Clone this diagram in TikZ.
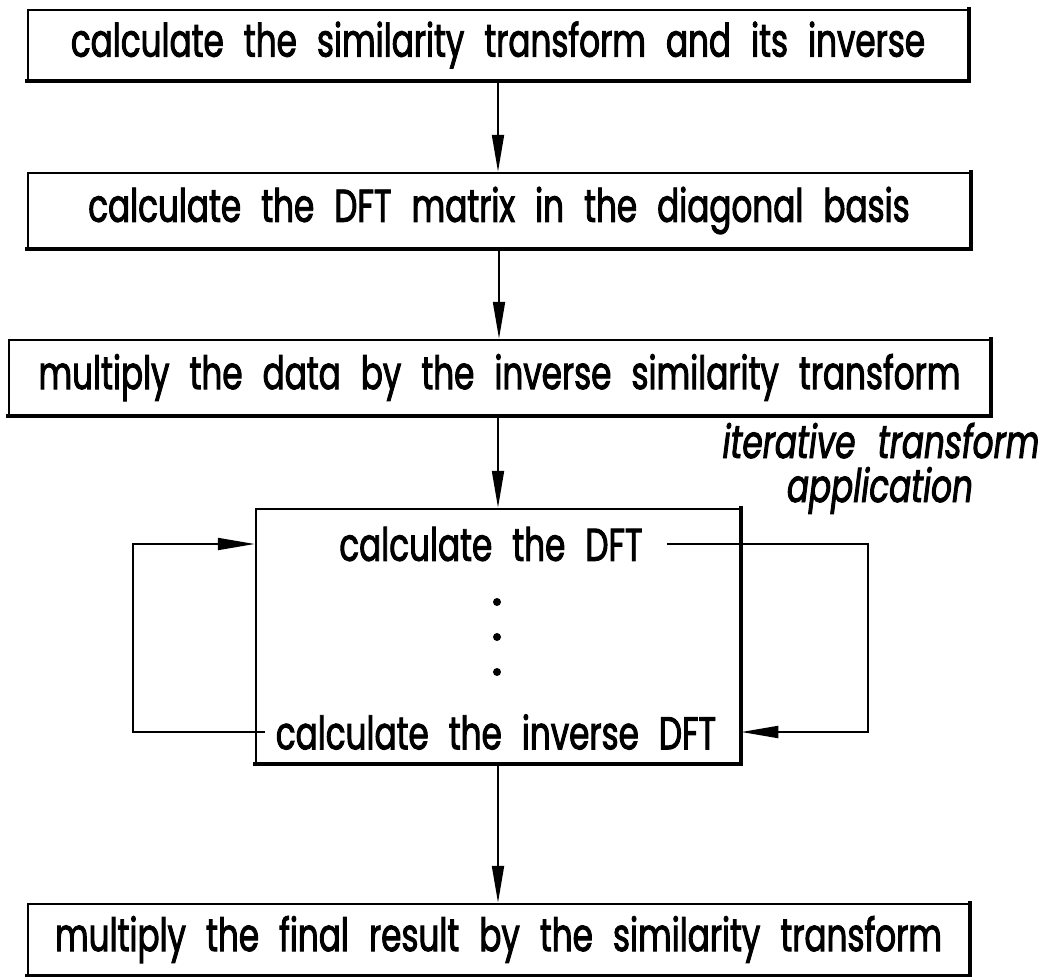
\documentclass[tikz,border=0pt]{standalone}
\usepackage{fontspec}
\setmainfont{Poppins}[FakeStretch=0.71, WordSpace=2.3, FakeBold=2]
\usetikzlibrary{arrows.meta}
\begin{document}
\begin{tikzpicture}[x=1pt,y=-1pt,
  every node/.style={font=\fontsize{46}{52}\selectfont},
  box/.style={draw, line width=2.5pt, inner sep=0pt, anchor=center},
  shadowedge/.style={line width=4pt, line cap=rect},
  conn/.style={line width=2pt},
  arr/.style={conn, -{Triangle[length=37pt,width=12pt]}},
  txt/.style={inner ysep=0pt},
  lbl/.style={font=\fontsize{46}{52}\selectfont\itshape, anchor=base, inner sep=0pt},
  dotn/.style={circle, fill, inner sep=0pt, minimum size=8pt}
]
\useasboundingbox (0,0) rectangle (1050,977);

\node[box, minimum width=940pt, minimum height=70pt] (b1) at (498,45) {calculate the similarity transform and its inverse};
\node[box, minimum width=942pt, minimum height=75pt] (b2) at (499,210.5) {calculate the DFT matrix in the diagonal basis};
\node[box, minimum width=981pt, minimum height=75pt] (b3) at (499.5,377.5) {multiply the data by the inverse similarity transform};
\node[box, minimum width=484pt, minimum height=254pt] (loop) at (498,636) {};
\node[box, minimum width=941pt, minimum height=71pt] (b5) at (498.5,939.5) {multiply the final result by the similarity transform};

\foreach \b in {b1,b2,b3,loop,b5}
  \draw[shadowedge] (\b.north east) -- (\b.south east) -- (\b.south west);

\node[txt, inner xsep=24pt] (dft) at (491,544) {calculate the DFT};
\node[txt, inner xsep=11pt] (idft) at (496,732) {calculate the inverse DFT};
\node[dotn] (d1) at (497,602) {};
\node[dotn] (d2) at (497,637) {};
\node[dotn] (d3) at (497,672) {};

\node[lbl] (it1) at (881,458) {iterative transform};
\node[lbl] (it2) at (880,502) {application};

\draw[arr] (b1.south) -- (b1.south |- b2.north);
\draw[arr] (b2.south) -- (b2.south |- b3.north);
\draw[arr] (b3.south -| loop.north) -- (loop.north);
\draw[arr] (loop.south) -- (loop.south |- b5.north);

\coordinate (rt) at (868,544);
\coordinate (rb) at (868,732);
\coordinate (lb) at (133,732);
\coordinate (lt) at (133,544);
\draw[arr] (dft.east) -- (rt) -- (rb) -- (loop.east |- rb);
\draw[arr] (idft.west) -- (lb) -- (lt) -- (loop.west |- lt);
\end{tikzpicture}
\end{document}
